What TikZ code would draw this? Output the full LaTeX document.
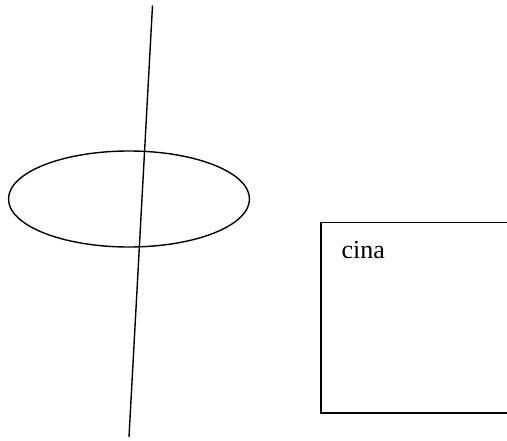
\documentclass[tikz,border=0pt]{standalone}
\usepackage{fontspec}
\setmainfont{Liberation Serif}
\usetikzlibrary{shapes.geometric}
\begin{document}
\begin{tikzpicture}[x=1pt,y=1pt,
  shape line/.style={draw=black,line width=1.4pt},
  label text/.style={inner sep=0pt,anchor=base west,font=\fontsize{26}{30}\selectfont}]
\useasboundingbox (0,0) rectangle (507,-440);
\node[shape line,ellipse,minimum width=241,minimum height=96,inner sep=0pt] (oval) at (129,-199) {};
\coordinate (ltop) at (152.5,-5.5);
\coordinate (lbot) at (129,-437);
\draw[shape line] (ltop) -- (lbot);
\draw[shape line] (512,-222.5) -- (321,-222.5) -- (321,-413) -- (512,-413);
\node[label text] (cina) at (341.5,-258) {cina};
\end{tikzpicture}
\end{document}
